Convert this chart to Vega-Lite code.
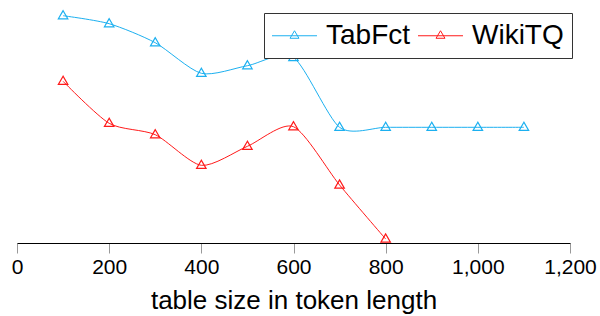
{
  "$schema": "https://vega.github.io/schema/vega-lite/v6.json",
  "autosize": {"type": "none"},
  "padding": {"left": 17, "top": 3, "right": 30, "bottom": 73},
  "width": 553,
  "height": 240,
  "background": "white",
  "config": {"view": {"stroke": null}, "font": "Liberation Sans"},
  "data": {
    "values": [
      {"size": 100, "value": 227.3, "series": "TabFct"},
      {"size": 200, "value": 219.3, "series": "TabFct"},
      {"size": 300, "value": 200.3, "series": "TabFct"},
      {"size": 400, "value": 169.7, "series": "TabFct"},
      {"size": 500, "value": 177.3, "series": "TabFct"},
      {"size": 600, "value": 185.5, "series": "TabFct"},
      {"size": 700, "value": 115.7, "series": "TabFct"},
      {"size": 800, "value": 115.7, "series": "TabFct"},
      {"size": 900, "value": 115.7, "series": "TabFct"},
      {"size": 1000, "value": 115.7, "series": "TabFct"},
      {"size": 1100, "value": 115.7, "series": "TabFct"},
      {"size": 100, "value": 161.7, "series": "WikiTQ"},
      {"size": 200, "value": 119.7, "series": "WikiTQ"},
      {"size": 300, "value": 108.3, "series": "WikiTQ"},
      {"size": 400, "value": 77.7, "series": "WikiTQ"},
      {"size": 500, "value": 96.7, "series": "WikiTQ"},
      {"size": 600, "value": 116.3, "series": "WikiTQ"},
      {"size": 700, "value": 58, "series": "WikiTQ"},
      {"size": 800, "value": 4, "series": "WikiTQ"}
    ]
  },
  "encoding": {
    "x": {
      "field": "size",
      "type": "quantitative",
      "scale": {"domain": [0, 1200], "nice": false, "zero": false},
      "axis": {
        "title": "table size in token length",
        "values": [0, 200, 400, 600, 800, 1000, 1200],
        "format": ",d",
        "grid": false,
        "domainColor": "#000000",
        "domainWidth": 1,
        "tickColor": "#999999",
        "tickSize": 10,
        "tickWidth": 1,
        "labelFont": "Liberation Sans",
        "labelFontSize": 21,
        "labelColor": "#000000",
        "labelPadding": 3,
        "labelFlush": false,
        "labelOverlap": false,
        "titleFont": "Liberation Sans",
        "titleFontSize": 26,
        "titleFontWeight": "normal",
        "titleColor": "#000000",
        "titlePadding": 10
      }
    },
    "y": {
      "field": "value",
      "type": "quantitative",
      "scale": {"domain": [0, 240], "nice": false},
      "axis": null
    },
    "color": {
      "field": "series",
      "type": "nominal",
      "scale": {"domain": ["TabFct", "WikiTQ"], "range": ["#1cb0f0", "#ff1a1a"]},
      "legend": {
        "title": null,
        "orient": "none",
        "legendX": 247,
        "legendY": 10,
        "direction": "horizontal",
        "symbolType": "M-1.607,0L1.607,0M0,-0.357L-0.32,0.18L0.32,0.18Z",
        "symbolSize": 784,
        "symbolOffset": 8,
        "symbolStrokeWidth": 1,
        "symbolOpacity": 1,
        "labelFont": "Liberation Sans",
        "labelFontSize": 28,
        "labelColor": "#000000",
        "labelOffset": 17,
        "columnPadding": 5,
        "padding": 8,
        "strokeColor": "#333333",
        "fillColor": "#ffffff",
        "cornerRadius": 0
      }
    }
  },
  "layer": [
    {
      "mark": {"type": "line", "interpolate": "cardinal", "tension": 0.25, "strokeWidth": 1}
    },
    {
      "mark": {"type": "point", "shape": "triangle-up", "filled": false, "size": 90, "strokeWidth": 1.2, "yOffset": -1, "opacity": 1}
    }
  ]
}
